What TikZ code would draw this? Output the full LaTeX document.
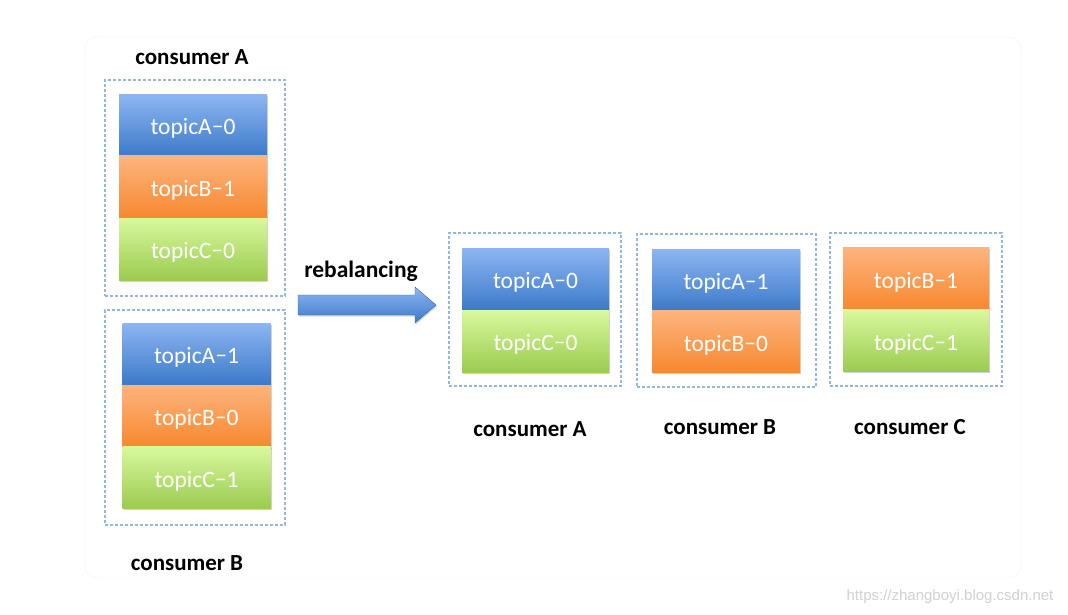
\documentclass[tikz,border=0pt]{standalone}
\usepackage{fontspec}
\setmainfont{Carlito}
\newfontfamily\wmfont{Liberation Sans}
\usetikzlibrary{shadows}
\definecolor{bluetop}{HTML}{8DB6F2}
\definecolor{bluebot}{HTML}{3C79C9}
\definecolor{orgtop}{HTML}{FDB47E}
\definecolor{orgbot}{HTML}{F7882F}
\definecolor{grntop}{HTML}{D9F89E}
\definecolor{grnbot}{HTML}{9BCB4F}
\definecolor{dashc}{HTML}{94B8DC}
\newcommand{\dsh}{\raisebox{1pt}{–}}
\tikzset{
  x=1pt,y=-1pt,
  blk/.style={minimum width=148pt,minimum height=62pt,inner sep=0pt,text height=19pt,text depth=0pt,text=white,font=\fontsize{23.5}{23.5}\selectfont,draw=none,drop shadow={shadow xshift=1pt,shadow yshift=-1.5pt,opacity=0.35}},
  bluebk/.style={blk,top color=bluetop,bottom color=bluebot},
  orgbk/.style={blk,top color=orgtop,bottom color=orgbot},
  grnbk/.style={blk,top color=grntop,bottom color=grnbot},
  grp/.style={draw=dashc,dash pattern=on 3pt off 2pt,line width=1.3pt},
  lbl/.style={font=\bfseries\fontsize{23}{23}\selectfont,text=black},
}
\begin{document}
\begin{tikzpicture}
\useasboundingbox (0,0) rectangle (1068,615);
\fill[white] (0,0) rectangle (1068,615);
\draw[black!5,rounded corners=12pt] (85,37) rectangle (1021,578);
% left consumer A
\node[grp,minimum width=180pt,minimum height=216pt,inner sep=0pt] (gA) at (195,188) {};
\node[bluebk] (a1) at (193,125.5) {topicA\dsh0};
\node[orgbk] (a2) at (193,187) {topicB\dsh1};
\node[grnbk] (a3) at (193,249) {topicC\dsh0};
\node[lbl] (lA) at (192,57) {consumer A};
% left consumer B
\node[grp,minimum width=180pt,minimum height=215pt,inner sep=0pt] (gB) at (195,417.5) {};
\node[bluebk] (b1) at (196.5,354) {topicA\dsh1};
\node[orgbk] (b2) at (196.5,416) {topicB\dsh0};
\node[grnbk] (b3) at (196.5,477.5) {topicC\dsh1};
\node[lbl] (lB) at (187,563) {consumer B};
% arrow
\coordinate (arrS) at (298,305);
\coordinate (arrT) at (436,305);
\shade[top color=bluetop,bottom color=bluebot,draw=bluebot!85!black,line width=0.4pt,drop shadow={shadow xshift=1pt,shadow yshift=-1.5pt,opacity=0.3}]
  (298,295) -- (415,295) -- (415,287) -- (arrT) -- (415,323) -- (415,315) -- (298,315) -- cycle;
\node[lbl,font=\fontsize{23.5}{23.5}\selectfont\bfseries] (reb) at (361,271) {rebalancing};
% right consumer A
\node[grp,minimum width=172pt,minimum height=153pt,inner sep=0pt] (rA) at (535,309.5) {};
\node[bluebk,minimum width=147pt] (ra1) at (535.5,279) {topicA\dsh0};
\node[grnbk,minimum width=147pt] (ra2) at (535.5,341) {topicC\dsh0};
\node[lbl] (rlA) at (530,429) {consumer A};
% right consumer B
\node[grp,minimum width=179pt,minimum height=153pt,inner sep=0pt] (rB) at (726.5,310.5) {};
\node[bluebk] (rb1) at (726,280) {topicA\dsh1};
\node[orgbk] (rb2) at (726,341.5) {topicB\dsh0};
\node[lbl] (rlB) at (720,427) {consumer B};
% right consumer C
\node[grp,minimum width=172pt,minimum height=153pt,inner sep=0pt] (rC) at (916,309.5) {};
\node[orgbk,minimum width=146pt] (rc1) at (916,278.5) {topicB\dsh1};
\node[grnbk,minimum width=146pt] (rc2) at (916,340.5) {topicC\dsh1};
\node[lbl] (rlC) at (910,427) {consumer C};
% watermark
\node[font=\wmfont\fontsize{15}{15}\selectfont,text=black!18] (wm) at (950,597) {https://zhangboyi.blog.csdn.net};
\end{tikzpicture}
\end{document}
